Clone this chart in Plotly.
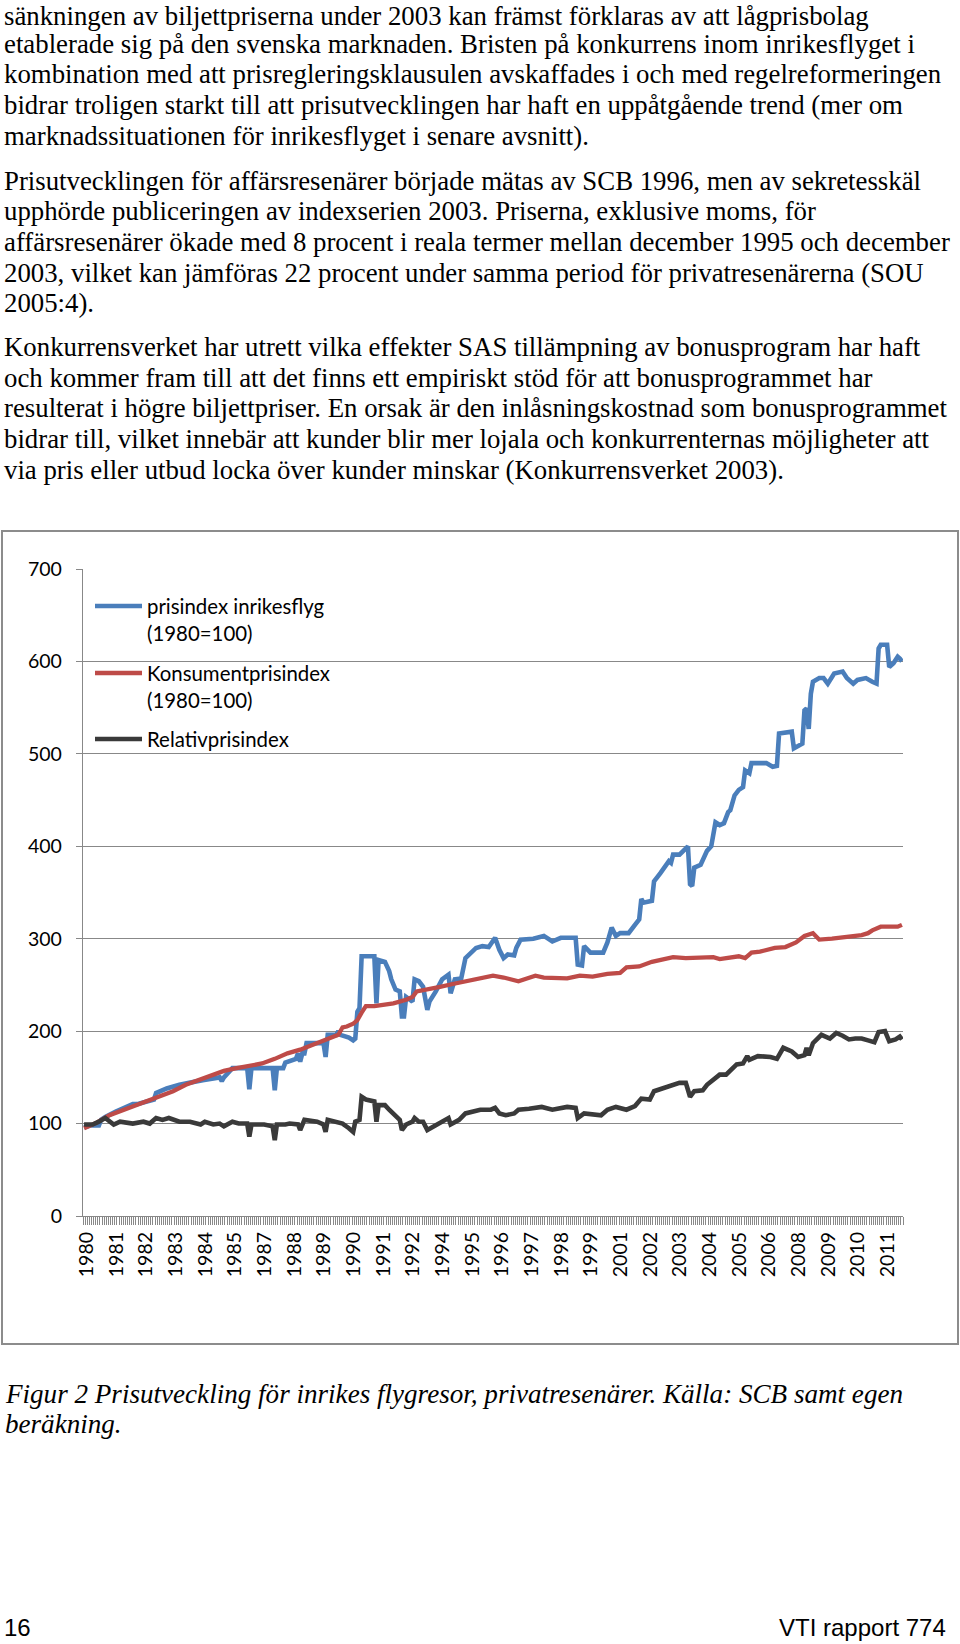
import plotly.graph_objects as go

# ---------------- data (month index: 0 = Jan 1980) ----------------
blue_idx = [0, 3, 7, 8, 10, 15, 23, 25, 33, 34, 39, 45, 56, 64, 65, 66, 70, 77, 78, 79, 89, 90, 91, 94, 95, 100, 101, 102, 103, 104,
            105, 113, 114, 115, 119, 120, 121, 125, 127, 128, 129, 130, 131, 137, 138, 139, 142, 144, 145, 147, 149, 150, 151, 152,
            155, 156, 158, 160, 162, 163, 166, 169, 172, 173, 175, 178, 180, 182, 185, 188, 191, 194, 196, 198, 200, 203, 204, 206,
            212, 217, 221, 225, 231, 232, 233, 235, 236, 239, 245, 247, 249, 251, 253, 257, 260, 262, 263, 264, 268, 269, 272, 274,
            276, 277, 278, 281, 284, 285, 286, 287, 288, 291, 294, 296, 298, 300, 302, 304, 305, 307, 309, 311, 312, 314, 315, 322,
            325, 327, 328, 334, 335, 339, 340, 341, 342, 343, 344, 347, 349, 351, 354, 358, 360, 363, 365, 369, 372, 374, 375, 376,
            379, 380, 382, 384, 385, 386]
blue_val = [96, 98, 98, 104, 107, 113, 121, 121, 126, 133, 138, 142, 147, 150, 146, 150, 160, 160, 137, 160, 160, 136, 160, 160, 166, 170, 176, 167, 176, 176,
            187, 187, 172, 196, 196, 200, 196, 193, 190, 192, 221, 225, 281, 281, 230, 277, 275, 265, 256, 245, 243, 216, 216, 237,
            232, 256, 254, 248, 223, 232, 243, 256, 261, 241, 256, 257, 279, 283, 290, 292, 291, 301, 288, 279, 283, 282, 290, 299,
            300, 303, 297, 301, 302, 301, 272, 271, 292, 285, 285, 296, 312, 303, 306, 306, 315, 321, 343, 339, 341, 362, 371, 377,
            384, 382, 391, 391, 398, 400, 359, 357, 377, 380, 395, 400, 426, 423, 425, 437, 439, 455, 461, 464, 482, 479, 490, 490,
            486, 487, 522, 524, 506, 511, 547, 549, 527, 565, 578, 582, 582, 576, 587, 589, 582, 576, 580, 582, 578, 576, 614, 618,
            618, 594, 598, 605, 603, 600]

red_idx = [0, 6, 12, 18, 24, 30, 36, 42, 48, 54, 60, 66, 72, 78, 84, 90, 96, 102, 108, 114, 120, 122, 124, 127, 129, 131, 133, 137,
           140, 146, 152, 155, 157, 162, 168, 174, 180, 184, 187, 190, 193, 198, 205, 209, 213, 217, 223, 228, 234, 240, 247, 253,
           256, 262, 268, 273, 278, 284, 290, 297, 300, 305, 309, 312, 315, 319, 323, 326, 331, 336, 340, 344, 347, 349, 353, 356,
           360, 364, 367, 370, 372, 376, 380, 382, 384, 386]
red_val = [95, 101, 109, 114, 119, 124, 129, 135, 142, 147, 153, 157, 160, 162, 165, 170, 176, 180, 185, 190, 196, 204, 205, 208, 212, 220, 227, 227,
           228, 230, 234, 237, 243, 245, 248, 251, 254, 256, 257, 258, 260, 258, 254, 257, 260, 258, 257, 257, 260, 259, 262, 263,
           269, 270, 275, 278, 280, 279, 280, 280, 278, 280, 281, 279, 285, 286, 288, 290, 291, 296, 303, 306, 299, 299, 300, 301,
           302, 303, 304, 306, 309, 313, 313, 314, 313, 315]

black_idx = [0, 4, 7, 10, 14, 17, 23, 28, 31, 34, 37, 40, 45, 50, 55, 57, 61, 64, 66, 70, 73, 77, 78, 79, 85, 89, 90, 91, 95, 97,
             101, 102, 104, 110, 113, 114, 115, 119, 122, 125, 127, 128, 130, 131, 133, 137, 138, 139, 142, 144, 147, 149, 150, 152,
             155, 156, 158, 160, 162, 165, 168, 172, 173, 177, 180, 184, 187, 192, 194, 196, 199, 203, 205, 210, 216, 221, 228, 232,
             233, 236, 244, 247, 251, 256, 260, 263, 267, 269, 273, 277, 281, 284, 286, 288, 292, 294, 297, 300, 303, 308, 311, 313,
             314, 318, 324, 327, 330, 334, 337, 340, 341, 342, 344, 346, 348, 352, 355, 358, 361, 364, 367, 370, 373, 375, 378, 380,
             383, 385, 386]
black_val = [99, 99, 102, 106, 99, 102, 100, 102, 100, 106, 104, 106, 102, 102, 99, 102, 99, 100, 97, 102, 100, 100, 86, 99, 99, 97, 82, 99, 99, 100,
             99, 93, 104, 102, 99, 91, 104, 102, 100, 95, 91, 102, 104, 129, 126, 124, 102, 120, 120, 115, 108, 104, 93, 99,
             102, 106, 102, 102, 93, 97, 100, 106, 99, 104, 111, 113, 115, 115, 117, 111, 109, 111, 115, 116, 118, 115, 118, 117,
             106, 111, 109, 115, 118, 115, 119, 127, 126, 135, 138, 140, 144, 144, 129, 135, 136, 142, 147, 153, 153, 164, 165, 173,
             169, 173, 172, 170, 182, 178, 172, 174, 182, 174, 187, 191, 196, 192, 198, 195, 191, 192, 192, 190, 188, 199, 200, 189,
             191, 194, 191]

n_months = 387
tick_labels = ["1980", "1981", "1982", "1983", "1984", "1985", "1987", "1988", "1989", "1990", "1991", "1992", "1994", "1995",
               "1996", "1997", "1998", "1999", "2001", "2002", "2003", "2004", "2005", "2006", "2008", "2009", "2010", "2011"]
label_interval = 14
y_ticks = [0, 100, 200, 300, 400, 500, 600, 700]

series_names = ["prisindex inrikesflyg (1980=100)", "Konsumentprisindex (1980=100)", "Relativprisindex"]
legend_lines = [["prisindex inrikesflyg", "(1980=100)"], ["Konsumentprisindex", "(1980=100)"], ["Relativprisindex"]]
colors = ["#4A7EBB", "#BE4B48", "#3A3A3A"]

para1 = ["sänkningen av biljettpriserna under 2003 kan främst förklaras av att lågprisbolag",
         "etablerade sig på den svenska marknaden. Bristen på konkurrens inom inrikesflyget i",
         "kombination med att prisregleringsklausulen avskaffades i och med regelreformeringen",
         "bidrar troligen starkt till att prisutvecklingen har haft en uppåtgående trend (mer om",
         "marknadssituationen för inrikesflyget i senare avsnitt)."]
para2 = ["Prisutvecklingen för affärsresenärer började mätas av SCB 1996, men av sekretesskäl",
         "upphörde publiceringen av indexserien 2003. Priserna, exklusive moms, för",
         "affärsresenärer ökade med 8 procent i reala termer mellan december 1995 och december",
         "2003, vilket kan jämföras 22 procent under samma period för privatresenärerna (SOU",
         "2005:4)."]
para3 = ["Konkurrensverket har utrett vilka effekter SAS tillämpning av bonusprogram har haft",
         "och kommer fram till att det finns ett empiriskt stöd för att bonusprogrammet har",
         "resulterat i högre biljettpriser. En orsak är den inlåsningskostnad som bonusprogrammet",
         "bidrar till, vilket innebär att kunder blir mer lojala och konkurrenternas möjligheter att",
         "via pris eller utbud locka över kunder minskar (Konkurrensverket 2003)."]
caption = ["Figur 2 Prisutveckling för inrikes flygresor, privatresenärer. Källa: SCB samt egen",
           "beräkning."]
footer_left = "16"
footer_right = "VTI rapport 774"

# ---------------- layout helpers (pixel -> paper) ----------------
W, H = 960, 1644
PL, PR, PT, PB = 83, 903, 569, 1216


def px(xp):
    return (xp - PL) / (PR - PL)


def py(yp):
    return (PB - yp) / (PB - PT)


fig = go.Figure()
for idx, val, name, col, lw in [(blue_idx, blue_val, series_names[0], colors[0], 4.6),
                                (red_idx, red_val, series_names[1], colors[1], 4.3),
                                (black_idx, black_val, series_names[2], colors[2], 4.6)]:
    fig.add_trace(go.Scatter(x=idx, y=val, mode="lines", name=name, showlegend=False,
                             line=dict(color=col, width=lw, shape="linear"), cliponaxis=False))

annotations = []
shapes = []

serif = "Liberation Serif"
tsize = 26.8
line_h = 30.7
for start, para in [(13, para1), (180.5, para2), (347, para3)]:
    for k, t in enumerate(para):
        yc = start + k * line_h
        if yc < 16:
            yc = 16
        annotations.append(dict(x=px(3), y=py(yc), xref="paper", yref="paper", text=t,
                                showarrow=False, xanchor="left", yanchor="middle", borderpad=0,
                                font=dict(family=serif, size=tsize, color="#000000")))
for k, t in enumerate(caption):
    annotations.append(dict(x=px(3), y=py(1394 + k * 29.5), xref="paper", yref="paper", text="<i>" + t + "</i>",
                            showarrow=False, xanchor="left", yanchor="middle",
                            font=dict(family=serif, size=27.1, color="#000000")))
annotations.append(dict(x=px(2), y=py(1627), xref="paper", yref="paper", text=footer_left, showarrow=False,
                        xanchor="left", yanchor="middle", font=dict(family="Liberation Sans", size=24, color="#000000")))
annotations.append(dict(x=px(948), y=py(1627), xref="paper", yref="paper", text=footer_right, showarrow=False,
                        xanchor="right", yanchor="middle", font=dict(family="Liberation Sans", size=24, color="#000000")))

# legend (drawn in the chart box)
leg_y = [606, 673, 739]
for k, lines in enumerate(legend_lines):
    shapes.append(dict(type="line", xref="paper", yref="paper", x0=px(95), x1=px(142), y0=py(leg_y[k]), y1=py(leg_y[k]),
                       line=dict(color=colors[k], width=4.6)))
    for j, t in enumerate(lines):
        annotations.append(dict(x=px(145), y=py(leg_y[k] + j * 27), xref="paper", yref="paper", text=t,
                                showarrow=False, xanchor="left", yanchor="middle",
                                font=dict(family="Lato", size=20.4, color="#000000")))

# chart border
shapes.append(dict(type="rect", xref="paper", yref="paper", x0=px(2), x1=px(958), y0=py(1344), y1=py(531),
                   line=dict(color="#8C8C8C", width=2), layer="below"))

axis_col = "#888888"
label_shift = 1.3  # small horizontal offset of category labels (in months)
fig.update_layout(
    width=W, height=H,
    margin=dict(l=PL, r=W - PR, t=PT, b=H - PB, autoexpand=False),
    paper_bgcolor="white", plot_bgcolor="white",
    showlegend=False,
    annotations=annotations, shapes=shapes,
    xaxis=dict(range=[-0.5, n_months - 0.5], showgrid=False, zeroline=False, showline=True,
               linecolor=axis_col, linewidth=1.3,
               tickmode="array", tickvals=[label_interval * k + label_shift for k in range(len(tick_labels))],
               ticktext=tick_labels,
               tickangle=-90, ticks="", ticklabelstandoff=7,
               tickfont=dict(family="Lato", size=19.5, color="#000000"),
               minor=dict(tickmode="linear", tick0=-0.5, dtick=1, ticks="outside", ticklen=8,
                          tickcolor=axis_col, tickwidth=1, showgrid=False)),
    yaxis=dict(range=[0, 700], tickmode="array", tickvals=y_ticks, showgrid=True, gridcolor=axis_col, gridwidth=1.3,
               zeroline=False, showline=True, linecolor=axis_col, linewidth=1.3,
               ticks="outside", ticklen=6, tickcolor=axis_col, tickwidth=1.3, ticklabelstandoff=10,
               tickfont=dict(family="Lato", size=19.5, color="#000000")),
)

fig.write_html("out.html", config={"displayModeBar": False},
               post_script="document.body.style.margin='0';document.body.style.overflow='hidden';")
